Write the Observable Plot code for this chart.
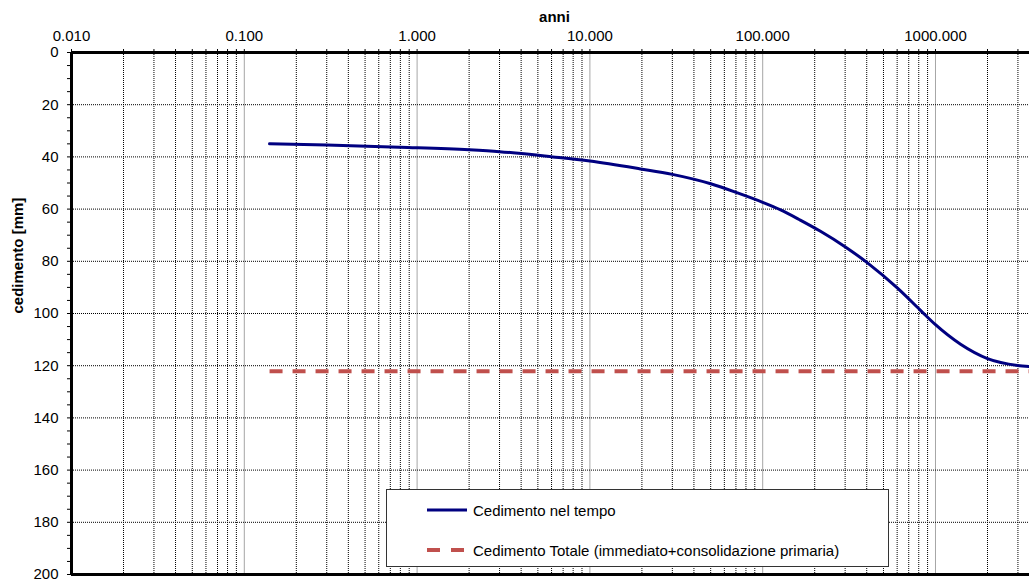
<!DOCTYPE html>
<html>
<head>
<meta charset="utf-8">
<script src="https://cdn.jsdelivr.net/npm/d3@7"></script>
<script src="https://cdn.jsdelivr.net/npm/@observablehq/plot@0.6"></script>
<style>
  html, body { margin: 0; padding: 0; background: #fff; }
  #wrap { position: relative; width: 1029px; height: 581px; overflow: hidden; font-family: "Liberation Sans", Arial, sans-serif; }
  #legend { position: absolute; left: 386px; top: 489px; width: 503px; height: 78px; background: #fff; border: 1px solid #333; box-sizing: border-box; font-size: 15px; color: #000; }
  .row { position: absolute; left: 40px; height: 20px; display: flex; align-items: center; white-space: nowrap; }
  .row svg { margin-right: 6px; }
</style>
</head>
<body>
<div id="wrap"></div>
<script>
// ---- data ----
const years = [0.14, 0.3, 0.8, 2.0, 3.0, 6.1, 10, 19.6, 30, 50, 71.5, 100, 127, 165, 216, 301, 404, 603, 819, 1000, 1397, 2000, 2985, 3500];
const cedimento = [35.0, 35.4, 36.3, 37.3, 38.0, 40.0, 41.6, 44.6, 46.7, 50.3, 53.8, 57.4, 60.3, 64.2, 68.5, 74.5, 80.6, 90.3, 98.8, 104.3, 111.8, 117.3, 119.9, 120.3];
const totaleYears = [0.14, 3500];
const totaleValue = [122.1, 122.1];
const decadeTicks = [0.01, 0.1, 1, 10, 100, 1000];
const yTicks = [0, 20, 40, 60, 80, 100, 120, 140, 160, 180, 200];
const seriesNames = ["Cedimento nel tempo", "Cedimento Totale (immediato+consolidazione primaria)"];
const xLabel = "anni";
const yLabel = "cedimento [mm]";
const xMax = 3500;

// ---- derived tables ----
const curve = years.map((t, i) => ({t, v: cedimento[i]}));
const totale = totaleYears.map((t, i) => ({t, v: totaleValue[i]}));
const minorX = [];
for (const d of decadeTicks) for (let k = 2; k <= 9; k++) if (k * d <= xMax) minorX.push(+(k * d).toPrecision(3));
const majorGrid = decadeTicks.slice(1);
const allX = decadeTicks.concat(minorX);
const minorY = d3.range(0, 201, 5);
const gridYs = yTicks.slice(1, -1);

const blue = "#000080";
const red = "#C0504D";

const chart = Plot.plot({
  width: 1029,
  height: 581,
  marginLeft: 71,
  marginRight: 0,
  marginTop: 52,
  marginBottom: 7,
  style: {fontFamily: "'Liberation Sans', Arial, sans-serif", fontSize: "15px", background: "#fff", color: "#000"},
  x: {type: "log", domain: [0.01, xMax], axis: null},
  y: {domain: [0, 200], reverse: true, axis: null},
  marks: [
    Plot.gridX(majorGrid, {stroke: "#a6a6a6", strokeOpacity: 1, strokeWidth: 1}),
    Plot.gridX(minorX, {stroke: "#000", strokeOpacity: 1, strokeWidth: 1, strokeDasharray: "1,1"}),
    Plot.gridY(gridYs, {stroke: "#000", strokeOpacity: 1, strokeWidth: 1, strokeDasharray: "1,1"}),
    Plot.axisX(allX, {anchor: "top", tickSize: 4, tickFormat: () => "", label: null}),
    Plot.axisX(decadeTicks, {anchor: "top", tickSize: 0, tickPadding: 12, tickFormat: d => d.toFixed(3), label: null, fontSize: 15}),
    Plot.axisY(minorY, {anchor: "left", tickSize: 4, tickFormat: () => "", label: null}),
    Plot.axisY(yTicks, {anchor: "left", tickSize: 0, tickPadding: 13, label: null, fontSize: 15}),
    Plot.line(totale, {x: "t", y: "v", stroke: red, strokeWidth: 4, strokeDasharray: "13,10", strokeLinecap: "butt"}),
    Plot.line(curve, {x: "t", y: "v", stroke: blue, strokeWidth: 3, curve: "monotone-x"}),
    Plot.ruleY([0, 200], {stroke: "#000", strokeWidth: 3}),
    Plot.ruleX([0.01], {stroke: "#000", strokeWidth: 3}),
    Plot.text([xLabel], {frameAnchor: "top", dy: -30.5, dx: 4, lineAnchor: "bottom", fontWeight: "bold", fontSize: 15}),
    Plot.text([yLabel], {frameAnchor: "left", dx: -53, rotate: -90, fontWeight: "bold", fontSize: 15})
  ]
});

const wrap = document.getElementById("wrap");
wrap.appendChild(chart);

// legend overlay
const legend = document.createElement("div");
legend.id = "legend";
legend.innerHTML = `
  <div class="row" style="top:10px">
    <svg width="40" height="6"><line x1="0" y1="3" x2="40" y2="3" stroke="${blue}" stroke-width="3"/></svg>
    <span>${seriesNames[0]}</span>
  </div>
  <div class="row" style="top:50px">
    <svg width="40" height="6"><line x1="0" y1="3" x2="40" y2="3" stroke="${red}" stroke-width="4" stroke-dasharray="13,11"/></svg>
    <span>${seriesNames[1]}</span>
  </div>`;
wrap.appendChild(legend);
</script>
</body>
</html>
